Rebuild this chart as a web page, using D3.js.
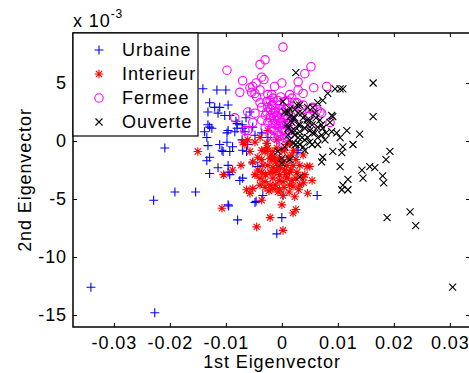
<!DOCTYPE html>
<html>
<head>
<meta charset="utf-8">
<script src="https://cdn.jsdelivr.net/npm/d3@7"></script>
<style>
  html, body { margin: 0; padding: 0; background: #fff; }
  svg { display: block; }
  text { font-family: "Liberation Sans", Arial, sans-serif; fill: #000; letter-spacing: 0.9px; }
</style>
</head>
<body>
<svg id="chart" width="469" height="373"></svg>
<script>
// First eigenvector (x) and second eigenvector (y, in units of 1e-3) per class
const urbaineX = [-0.0341,-0.0227,-0.0209,-0.0229,-0.0191,-0.0154,-0.0095,-0.0079,-0.0009,0.0000,-0.0046,0.0002,0.0063,-0.0132,-0.0129,-0.0134,-0.0129,-0.0114,-0.0096,-0.0093,-0.0096,-0.0075,-0.0096,-0.0138,-0.0129,-0.0134,-0.0098,-0.0098,-0.0111,-0.0107,-0.0105,-0.0093,-0.0088,-0.0084,-0.0080,-0.0071,-0.0066,-0.0063,-0.0061,-0.0141,-0.0116,-0.0100,-0.0129,-0.0120,-0.0111,-0.0096,-0.0132,-0.0114,-0.0102,-0.0093,-0.0082,-0.0080,-0.0071,-0.0132,-0.0125,-0.0096,-0.0070,-0.0052,-0.0048,-0.0070,-0.0052,-0.0043,-0.0070,-0.0034,-0.0048,0.0029,-0.0057,-0.0064,-0.0036,-0.0025,0.0027];
const urbaineY = [-12.6,-14.8,-0.6,-5.1,-4.4,-4.4,-5.6,-6.8,-8.0,-6.6,-5.2,-4.7,-4.7,-0.4,-1.4,-1.7,-2.8,-2.3,-2.1,-2.9,-2.7,-3.4,-5.5,0.8,1.2,0.3,0.7,-0.1,-0.3,-0.8,-0.9,-0.9,-0.5,0.8,1.1,0.1,0.8,-0.9,-0.3,4.5,4.4,4.4,3.3,2.9,2.9,3.1,2.5,2.4,2.2,2.2,1.7,1.5,1.4,1.4,1.1,0.9,1.1,1.2,0.5,-0.8,-1.9,-2.2,-3.2,-4.7,-5.3,-0.8,2.5,2.0,0.7,0.3,-1.0];

const interieurX = [-0.0150,-0.0107,-0.0088,-0.0073,-0.0104,-0.0063,-0.0057,-0.0036,-0.0045,-0.0021,0.0002,0.0000,0.0020,0.0025,0.0023,0.0046,0.0038,0.0045,0.0041,0.0050,0.0038,0.0032,0.0014,-0.0004,-0.0016,-0.0030,-0.0039,-0.0066,-0.0061,-0.0039,-0.0027,-0.0009,0.0002,-0.0016,-0.0004,0.0014,-0.0021,-0.0034,-0.0052,-0.0043,-0.0016,0.0011,0.0020,0.0027,-0.0030,-0.0016,0.0002,-0.0048,0.0014,-0.0025,-0.0048,-0.0007,-0.0023,-0.0052,-0.0036,-0.0025,-0.0013,-0.0007,0.0005,0.0009,0.0018,-0.0021,-0.0011,-0.0043,0.0005,-0.0036,-0.0004,0.0025,-0.0029,0.0002,0.0032,-0.0057,0.0013,0.0054,-0.0070,-0.0018,-0.0009,0.0000,-0.0030,0.0009,0.0018,-0.0039,
  -0.0029,-0.0020,-0.0011,-0.0002,0.0007,0.0016,0.0025,-0.0025,-0.0014,-0.0005,0.0004,0.0013,0.0021,-0.0036,-0.0021,0.0030,0.0009,-0.0009,0.0020,0.0039];
const interieurY = [-0.9,-5.8,-2.5,-2.1,-2.9,-4.2,-4.5,-5.1,-7.4,-6.6,-7.7,-5.5,-6.2,-5.9,-4.8,-4.5,-3.1,-2.2,-2.9,-2.2,-1.2,-2.1,-3.8,-4.2,-4.1,-4.0,-3.2,-0.3,0.1,0.3,-0.2,-0.6,-1.8,-2.3,-2.9,-2.7,-1.5,-2.1,-1.8,-1.4,-0.9,-1.4,-2.1,-2.7,-3.5,-3.2,-3.5,-2.9,-0.2,0.9,-0.1,-4.4,-4.3,-4.1,-0.8,-0.6,-1.4,-2.1,-2.5,-3.2,-3.4,-2.7,-3.8,-2.5,-0.8,-1.6,-1.5,-1.6,-2.9,-4.7,-3.8,-0.9,-4.4,-3.4,-0.1,-1.6,-2.5,-0.8,-0.9,-2.1,-1.2,-3.8,
  -0.8,-1.2,-1.8,-2.3,-2.9,-2.5,-3.2,-2.1,-2.7,-3.4,-4.0,-1.6,-0.8,-2.7,-3.8,-4.2,-0.3,0.1,-3.9,-3.6];

const fermeeX = [0.0002,-0.0030,-0.0039,-0.0098,0.0052,0.0041,-0.0070,-0.0036,-0.0032,-0.0046,-0.0052,0.0000,-0.0013,0.0029,0.0029,0.0057,0.0080,-0.0048,-0.0039,-0.0045,0.0014,0.0018,-0.0027,-0.0039,-0.0016,0.0005,0.0027,0.0036,0.0050,0.0063,-0.0057,-0.0084,-0.0061,-0.0054,-0.0036,-0.0018,0.0009,-0.0048,-0.0016,-0.0025,0.0000,0.0038,0.0054,0.0038,0.0023,0.0055,0.0071,0.0086,0.0054,-0.0075,-0.0061,-0.0052,0.0046,0.0068,0.0002,-0.0066,-0.0021,-0.0013,-0.0004,0.0005,-0.0018,-0.0007,0.0002,0.0011,-0.0025,-0.0011,0.0000,0.0014,-0.0013,0.0005,-0.0021,-0.0004,-0.0030,0.0011,-0.0007,-0.0021,0.0005,-0.0016,-0.0002,-0.0009,0.0014,-0.0027,-0.0005,-0.0014,0.0007,-0.0036,0.0020,0.0023,
  -0.0025,-0.0018,-0.0011,-0.0004,0.0004,0.0009,0.0016,-0.0021,-0.0014,-0.0005,0.0002,0.0007,-0.0029,-0.0002,-0.0011,0.0013,-0.0020,0.0002,-0.0007,-0.0016];
const fermeeY = [8.1,7.0,6.6,6.1,6.4,5.8,5.2,5.5,5.3,5.0,4.7,5.0,4.7,5.1,4.4,4.6,4.7,4.1,4.4,3.8,4.0,3.7,3.4,3.3,3.1,3.4,3.3,2.7,2.2,2.7,4.6,2.0,2.5,4.2,2.9,4.0,3.5,2.4,2.4,2.9,2.7,3.1,2.8,4.1,3.3,2.9,2.4,1.6,1.1,4.2,0.9,1.6,2.1,2.5,-0.2,0.9,2.2,1.8,2.0,1.4,1.1,0.8,2.5,2.0,1.6,2.8,1.1,0.9,0.3,0.3,0.5,0.1,1.1,2.8,3.5,3.5,0.8,1.5,1.6,2.2,1.6,2.5,1.3,2.0,2.2,1.8,2.5,1.4,
  4.0,3.1,2.5,3.1,2.0,1.5,2.2,2.0,0.9,0.5,1.6,2.8,2.2,3.8,1.4,0.5,2.7,0.9,1.8,3.7];

const ouverteX = [0.0025,0.0163,0.0082,0.0095,0.0104,0.0109,0.0073,0.0064,0.0089,0.0086,0.0163,0.0089,0.0098,0.0116,0.0139,0.0104,0.0071,0.0127,0.0109,0.0107,0.0091,0.0073,0.0071,0.0104,0.0193,0.0186,0.0157,0.0166,0.0143,0.0145,0.0118,0.0109,0.0107,0.0118,0.0180,0.0182,0.0229,0.0188,0.0239,0.0305,0.0046,0.0050,0.0014,0.0029,0.0055,0.0002,0.0005,0.0023,0.0036,0.0059,0.0018,0.0032,0.0045,0.0064,0.0011,0.0029,0.0046,0.0059,0.0020,0.0038,0.0005,-0.0007,0.0000,0.0000,0.0014,0.0032,0.0073,0.0091,0.0023,0.0041,0.0011,0.0032,0.0054,0.0025,0.0041,0.0014,0.0050,0.0068,0.0077,0.0064,0.0032,0.0023,
  0.0011,0.0020,0.0029,0.0038,0.0046,0.0055,0.0064,0.0014,0.0023,0.0032,0.0041,0.0050,0.0061,0.0071,0.0079,0.0009,0.0027,0.0018,0.0054,0.0036];
const ouverteY = [5.9,5.0,4.1,4.5,4.5,4.5,3.5,3.3,2.2,1.6,2.1,0.8,0.7,0.9,0.6,0.3,0.5,-0.3,-0.5,-1.0,-0.9,-1.4,-1.8,-2.2,-0.9,-1.6,-2.2,-2.3,-2.5,-3.2,-3.3,-3.8,-4.2,-4.2,-3.0,-3.6,-6.1,-6.6,-7.3,-12.6,2.9,-0.1,2.8,2.4,2.9,3.4,2.5,2.7,2.4,2.4,1.6,1.4,1.8,1.2,0.5,0.3,0.3,0.7,-0.2,-0.5,-0.5,-0.9,-1.5,-1.9,-1.6,-3.1,1.1,2.1,2.0,1.1,1.1,0.8,1.4,-0.3,0.1,2.1,0.9,1.8,0.1,-0.3,3.1,0.9,
  2.5,2.0,1.4,2.0,1.4,0.7,0.3,0.1,0.5,-0.3,-0.8,1.8,2.0,1.4,0.7,1.4,3.1,0.9,-0.3,0.3];

const classNames = ["Urbaine", "Interieur", "Fermee", "Ouverte"];
const xTicks = [-0.03, -0.02, -0.01, 0, 0.01, 0.02, 0.03];
const yTicks = [-15, -10, -5, 0, 5];

const svg = d3.select("#chart");
const L = 73, R = 470, T = 33, B = 327;

const x = d3.scaleLinear().domain([-0.0373, 0.0336]).range([L, R]);
const y = d3.scaleLinear().domain([-16.03, 9.31]).range([B, T]);

// Marker shapes
const plusPath = s => `M${-s},0H${s}M0,${-s}V${s}`;
const crossPath = s => `M${-s},${-s}L${s},${s}M${-s},${s}L${s},${-s}`;
const starPath = s => { const d = s * 0.72; return plusPath(s) + crossPath(d); };

const series = [
  { name: classNames[0], xs: urbaineX, ys: urbaineY, color: "#0000ff", kind: "plus" },
  { name: classNames[1], xs: interieurX, ys: interieurY, color: "#ff0000", kind: "star" },
  { name: classNames[2], xs: fermeeX, ys: fermeeY, color: "#ff00ff", kind: "circle" },
  { name: classNames[3], xs: ouverteX, ys: ouverteY, color: "#000000", kind: "cross" }
];

function drawMarker(g, kind, color) {
  if (kind === "circle") {
    g.append("circle").attr("r", 4.2).attr("fill", "none").attr("stroke", color).attr("stroke-width", 1.1);
  } else {
    const p = kind === "plus" ? plusPath(4.5) : kind === "star" ? starPath(4.3) : crossPath(3.5);
    g.append("path").attr("d", p).attr("fill", "none").attr("stroke", color).attr("stroke-width", 1.1);
  }
}

const plot = svg.append("g");
series.forEach(s => {
  const pts = s.xs.map((v, i) => [v, s.ys[i]]);
  plot.append("g").selectAll("g").data(pts).enter().append("g")
    .attr("transform", d => `translate(${x(d[0])},${y(d[1])})`)
    .each(function () { drawMarker(d3.select(this), s.kind, s.color); });
});

// Axes box with inward ticks on all four sides
const fmtX = d => d === 0 ? "0" : d3.format(".2f")(d).replace("\u2212", "-");
const fmtY = d => String(d);

const xAxisB = d3.axisBottom(x).tickValues(xTicks).tickSize(-4).tickPadding(9).tickFormat(fmtX);
const xAxisT = d3.axisTop(x).tickValues(xTicks).tickSize(-4).tickFormat("");
const yAxisL = d3.axisLeft(y).tickValues(yTicks).tickSize(-4).tickPadding(6).tickFormat(fmtY);
const yAxisR = d3.axisRight(y).tickValues(yTicks).tickSize(-4).tickFormat("");

function styleAxis(g) {
  g.select(".domain").remove();
  g.selectAll("line").attr("stroke", "#000").attr("stroke-width", 1);
  g.selectAll("text").attr("font-size", 18).attr("font-family", "Liberation Sans, Arial, sans-serif").attr("fill", "#000");
}
svg.append("g").attr("transform", `translate(0,${B})`).call(xAxisB).call(styleAxis);
svg.append("g").attr("transform", `translate(0,${T})`).call(xAxisT).call(styleAxis);
svg.append("g").attr("transform", `translate(${L},0)`).call(yAxisL).call(styleAxis);
svg.append("g").attr("transform", `translate(${R},0)`).call(yAxisR).call(styleAxis);

svg.append("rect").attr("x", L).attr("y", T).attr("width", R - L).attr("height", B - T)
  .attr("fill", "none").attr("stroke", "#000").attr("stroke-width", 1.5);

// Exponent label
const ex = svg.append("text").attr("x", L).attr("y", 27).attr("font-size", 18);
ex.append("tspan").text("x 10");
ex.append("tspan").attr("font-size", 12).attr("dy", -9).text("-3");

// Axis titles
svg.append("text").attr("x", 272).attr("y", 368).attr("text-anchor", "middle").attr("font-size", 18).text("1st Eigenvector");
svg.append("text").attr("transform", "translate(31,180) rotate(-90)").attr("text-anchor", "middle").attr("font-size", 18).text("2nd Eigenvector");

// Legend
const leg = svg.append("g");
leg.append("rect").attr("x", L).attr("y", T).attr("width", 125).attr("height", 103)
  .attr("fill", "#fff").attr("stroke", "#000").attr("stroke-width", 1.2);
series.forEach((s, i) => {
  const cy = 50 + i * 24;
  const m = leg.append("g").attr("transform", `translate(99,${cy})`);
  drawMarker(m, s.kind, s.color);
  leg.append("text").attr("x", 122).attr("y", cy).attr("dy", "0.35em").attr("font-size", 18).text(s.name);
});
</script>
</body>
</html>
